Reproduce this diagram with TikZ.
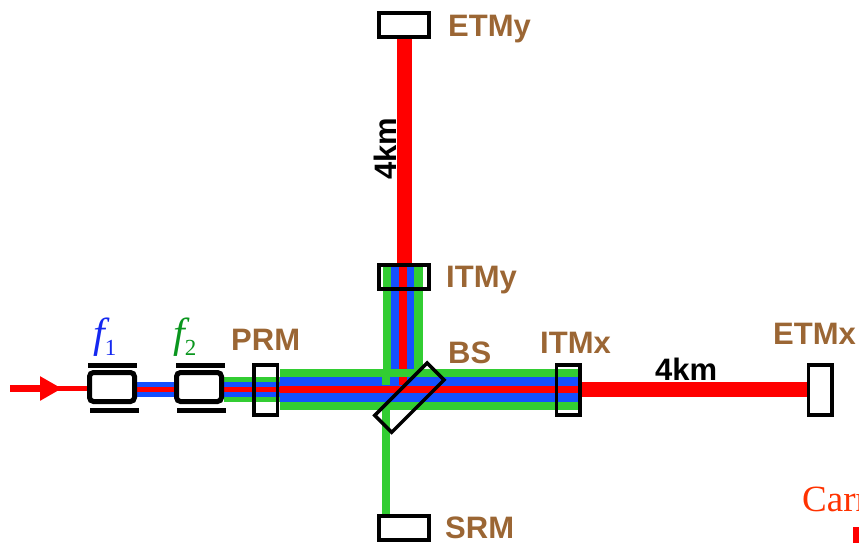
\documentclass[tikz,border=0pt]{standalone}
\usepackage{fontspec}
\setmainfont{Liberation Sans}
\newfontfamily\serifface{Liberation Serif}
\usepackage{xcolor}
\usetikzlibrary{arrows.meta,calc}
\definecolor{mirrorbrown}{RGB}{155,102,52}
\definecolor{beamgreen}{RGB}{50,205,50}
\definecolor{beamblue}{RGB}{20,80,255}
\definecolor{sideblue}{RGB}{20,40,240}
\definecolor{sidegreen}{RGB}{10,150,30}
\definecolor{carrred}{RGB}{255,50,0}
\pgfdeclarelayer{beams}
\pgfsetlayers{beams,main}

\begin{document}
\begin{tikzpicture}[x=1pt, y=-1pt]
        \tikzset{
            mirror/.style={draw, rectangle, line width=3.5pt, inner sep=0pt, outer sep=0pt},
            tall/.style={mirror, minimum width=23.5pt, minimum height=50pt},
            wide/.style={mirror, minimum width=50pt, minimum height=24pt},
            eom/.style={draw, fill=white, rectangle, rounded corners=4pt, line width=5pt, inner sep=0pt, minimum width=45pt, minimum height=29pt},
            plate/.style={fill=black, rectangle, inner sep=0pt, minimum width=49pt, minimum height=5pt},
            tag/.style={font=\fontsize{31}{33}\selectfont\bfseries, text=mirrorbrown, anchor=base west, inner sep=0pt},
            arm/.style={font=\fontsize{31}{33}\selectfont\bfseries, anchor=base west, inner sep=0pt},
            side/.style={font=\serifface\fontsize{42}{44}\selectfont\itshape, anchor=base west, inner sep=0pt},
            greenbeam/.style={draw=beamgreen, line width=25pt},
            bluebeam/.style={draw=beamblue, line width=15.5pt},
            redthin/.style={draw=red, line width=4.5pt},
            redmid/.style={draw=red, line width=7.6pt},
            redarm/.style={draw=red, line width=15pt}
        }
        \useasboundingbox (0, 0) rectangle (859, 543);

        % Mirrors
        \node [tall] (prm) at (265.5, 389.8) {};
        \node [tall] (itmx) at (568, 389.8) {};
        \node [tall] (etmx) at (820, 389.8) {};
        \node [wide] (itmy) at (404, 277) {};
        \node [wide] (etmy) at (404, 25) {};
        \node [wide] (srm) at (404, 528) {};
        \node [mirror, rotate=45, minimum width=74pt, minimum height=24pt] (bs) at (409.4, 397.6) {};

        % Modulators
        \node [eom] (fone) at (112, 387) {};
        \node [eom] (ftwo) at (199, 387) {};
        \node [plate] (fonetop) at (112.5, 365.7) {};
        \node [plate] (fonebot) at (114, 410) {};
        \node [plate] (ftwotop) at (200, 365.7) {};
        \node [plate] (ftwobot) at (201, 410) {};

        % Free ends
        \coordinate (laser) at (10, 388.5);
        \coordinate (tip) at (62, 388.5);
        \coordinate (prmout) at (280, 389.5);
        \coordinate (join) at (402.5, 368.5);
        \coordinate (srmleg) at (386, 410);
        \coordinate (greenstub) at (386, 377);
        \coordinate (redstub) at (403, 377);

        \begin{pgfonlayer}{beams}
            % Y arm
            \draw [redarm] (etmy.south) -- (itmy.north);
            \draw [draw=beamgreen, line width=40pt] (join |- itmy.north) -- (join);
            \draw [draw=beamblue, line width=23.5pt] (join |- itmy.north) -- (join);
            \draw [redmid] (redstub |- itmy.north) -- (join -| redstub);

            % Leg to SRM
            \draw [draw=beamgreen, line width=7.7pt] (srmleg) -- (srmleg |- srm.north);

            % Between the modulators
            \draw [bluebeam] (fone.east |- prmout) -- (ftwo.west |- prmout);
            \draw [redthin] (fone.east |- prmout) -- (ftwo.west |- prmout);
            \draw [greenbeam] (ftwo.east |- prmout) -- (prmout);
            \draw [bluebeam] (ftwo.east |- prmout) -- (prmout);
            \draw [redthin] (ftwo.east |- prmout) -- (prmout);

            % X arm
            \draw [draw=beamgreen, line width=41.3pt] (prmout) -- (itmx.east |- prmout);
            \draw [draw=beamblue, line width=24.7pt] (prmout) -- (itmx.east |- prmout);
            \draw [draw=beamgreen, line width=7.7pt] (greenstub) -- ++(0,8.3);
            \draw [draw=red, line width=7.7pt] (redstub) -- ++(0,8.3);
            \draw [redmid] (prmout) -- (itmx.east |- prmout);
            \draw [redarm] (itmx.east |- etmx.west) -- (etmx.west);
        \end{pgfonlayer}

        % Input
        \draw [redthin] (laser) -- (fone.west |- laser);
        \draw [draw=red, line width=7.5pt, -{Triangle[length=22pt, width=23pt]}] (laser) -- (tip);

        % Labels
        \node [tag] (etmylabel) at (448, 37) {ETMy};
        \node [tag] (itmylabel) at (446, 287) {ITMy};
        \node [tag] (bslabel) at (448, 363) {BS};
        \node [tag] (itmxlabel) at (540, 353) {ITMx};
        \node [tag] (prmlabel) at (231, 350) {PRM};
        \node [tag] (etmxlabel) at (773, 344) {ETMx};
        \node [tag] (srmlabel) at (445, 538) {SRM};
        \node [arm] (xarm) at (655, 380) {4km};
        \node [arm, rotate=90] (yarm) at (396, 180) {4km};
        \node [side, text=sideblue] (fonelabel) at (93, 347) {f\raisebox{-8pt}{\fontsize{23}{23}\selectfont\upshape 1}};
        \node [side, text=sidegreen] (ftwolabel) at (173, 347) {f\raisebox{-8pt}{\fontsize{23}{23}\selectfont\upshape 2}};

        % Corner
        \node [anchor=base west, inner sep=0pt, text=carrred, font=\serifface\fontsize{37}{39}\selectfont] (carr) at (802, 511) {Carr};
        \node [anchor=north west, fill=red, inner sep=0pt, minimum width=6pt, minimum height=16pt] (carrbar) at (853, 527) {};
\end{tikzpicture}
\end{document}
